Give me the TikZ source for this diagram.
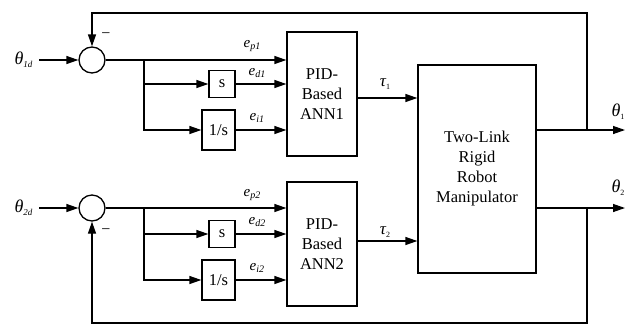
\documentclass[tikz,border=0pt]{standalone}
\usepackage{fontspec}
\setmainfont{Liberation Serif}
\usetikzlibrary{arrows.meta}
\newcommand\symb[4]{{\fontsize{#3}{#3}\selectfont\itshape #1}\raisebox{-0.28em}{\fontsize{#4}{#4}\selectfont\itshape #2}}
\newcommand\symu[4]{{\fontsize{#3}{#3}\selectfont\itshape #1}\raisebox{-0.28em}{\fontsize{#4}{#4}\selectfont #2}}
\begin{document}
\begin{tikzpicture}[x=1pt,y=-1pt, line width=1.3pt,
  >={Triangle[length=12pt,width=8pt]},
  blk/.style={draw, inner sep=0pt, align=center, font=\fontsize{16.5}{20}\selectfont},
  sum/.style={draw, circle, minimum size=26pt, inner sep=0pt},
  ann/.style={blk, minimum width=70pt, minimum height=124pt},
  lbl/.style={inner sep=0pt}]
\useasboundingbox (0,0) rectangle (627,325);
% ---------- loop 1 ----------
\node[sum] (s1) at (92,60) {};
\coordinate (in1) at (39,60);
\node[lbl, anchor=east] (t1d) at (33,60) {\symb{θ}{1d}{18}{9}};
\node[blk, minimum width=26pt, minimum height=27pt] (d1) at (222,84) {s};
\node[blk, minimum width=33pt, minimum height=40pt] (i1) at (218.5,130) {1/s};
\node[ann] (a1) at (322,94) {PID-\\Based\\ANN1};
\coordinate (br1) at (144,60);
% ---------- loop 2 ----------
\node[sum] (s2) at (92,208) {};
\coordinate (in2) at (39,208);
\node[lbl, anchor=east] (t2d) at (33,208) {\symb{θ}{2d}{18}{9}};
\node[blk, minimum width=26pt, minimum height=27pt] (d2) at (222,234) {s};
\node[blk, minimum width=33pt, minimum height=40pt] (i2) at (218.5,280) {1/s};
\node[ann] (a2) at (322,244) {PID-\\Based\\ANN2};
\coordinate (br2) at (144,208);
% ---------- robot ----------
\node[blk, minimum width=118pt, minimum height=208pt] (rb) at (477,169) {Two-Link\\Rigid\\Robot\\Manipulator};
\coordinate (o1) at (625,130);
\coordinate (o2) at (625,208);
\coordinate (f1) at (587,130);
\coordinate (f2) at (587,208);
\coordinate (top) at (587,13);
\coordinate (bot) at (587,323);
% ---------- connectors ----------
\draw[->] (in1) -- (s1);
\draw[->] (s1) -- (s1 -| a1.west);
\draw[->] (br1 |- d1) -- (d1);
\draw[->] (br1) |- (i1);
\draw[->] (d1) -- (d1 -| a1.west);
\draw[->] (i1) -- (i1 -| a1.west);
\draw[->] (in2) -- (s2);
\draw[->] (s2) -- (s2 -| a2.west);
\draw[->] (br2 |- d2) -- (d2);
\draw[->] (br2) |- (i2);
\draw[->] (d2) -- (d2 -| a2.west);
\draw[->] (i2) -- (i2 -| a2.west);
\draw[->] ([yshift=-4pt]a1.east) -- ([yshift=-4pt]a1.east -| rb.west);
\draw[->] ([yshift=3pt]a2.east) -- ([yshift=3pt]a2.east -| rb.west);
\draw[->] (rb.east |- o1) -- (o1);
\draw[->] (rb.east |- o2) -- (o2);
\draw[->] (f1) -- (top) -| (s1.north);
\draw[->] (f2) -- (bot) -| (s2.south);
% ---------- labels ----------
\node[lbl] (m1) at (106,36) {\fontsize{16}{16}\selectfont −};
\node[lbl] (m2) at (106,232) {\fontsize{16}{16}\selectfont −};
\node[lbl, anchor=west] (ep1) at (243,46) {\symb{e}{p1}{15}{10}};
\node[lbl, anchor=west] (ed1) at (248,73) {\symb{e}{d1}{15}{10}};
\node[lbl, anchor=west] (ei1) at (249,118) {\symb{e}{i1}{15}{10}};
\node[lbl, anchor=west] (ep2) at (243,195) {\symb{e}{p2}{15}{10}};
\node[lbl, anchor=west] (ed2) at (248,222) {\symb{e}{d2}{15}{10}};
\node[lbl, anchor=west] (ei2) at (249,268) {\symb{e}{i2}{15}{10}};
\node[lbl] (tau1) at (385,84) {\symu{τ}{1}{17}{8}};
\node[lbl] (tau2) at (385,232) {\symu{τ}{2}{17}{8}};
\node[lbl] (th1) at (618,112) {\symu{θ}{1}{18}{8}};
\node[lbl] (th2) at (618,188) {\symu{θ}{2}{18}{8}};
\end{tikzpicture}
\end{document}
